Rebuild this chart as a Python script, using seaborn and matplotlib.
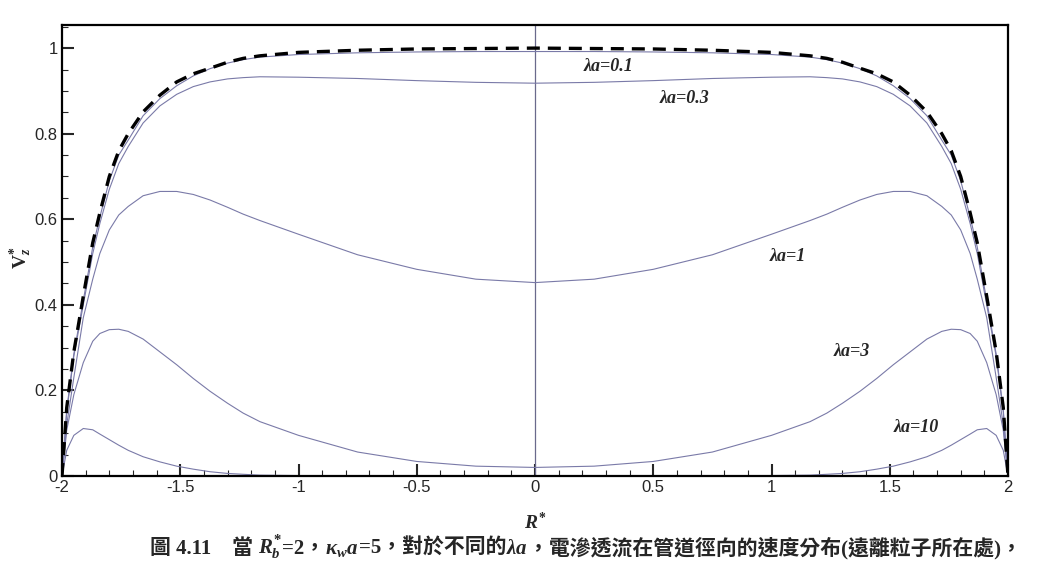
import pandas as pd
import seaborn as sns
import matplotlib.pyplot as plt
from matplotlib.ticker import MultipleLocator

# half profile from the wall (R*=-2) to the axis (R*=0); the profiles are symmetric
r_half = [-2.0, -1.98, -1.95, -1.91, -1.87, -1.84, -1.80, -1.76, -1.72, -1.657, -1.586,
          -1.515, -1.445, -1.374, -1.30, -1.234, -1.163, -1.0, -0.75, -0.5, -0.25, 0.0]

v_limit = [0, 0.16, 0.29, 0.42, 0.545, 0.615, 0.70, 0.76, 0.80, 0.851, 0.89,
           0.921, 0.94, 0.953, 0.967, 0.976, 0.982, 0.99, 0.995, 0.998, 0.999, 1.0]
v_01 = [0, 0.155, 0.285, 0.41, 0.535, 0.605, 0.69, 0.75, 0.785, 0.842, 0.882,
        0.912, 0.935, 0.952, 0.965, 0.973, 0.979, 0.985, 0.989, 0.991, 0.992, 0.992]
v_03 = [0, 0.15, 0.28, 0.40, 0.52, 0.59, 0.67, 0.73, 0.77, 0.825, 0.865,
        0.892, 0.91, 0.921, 0.928, 0.931, 0.933, 0.932, 0.929, 0.924, 0.92, 0.918]
v_1 = [0, 0.12, 0.23, 0.37, 0.46, 0.52, 0.575, 0.61, 0.63, 0.655, 0.665,
       0.665, 0.658, 0.645, 0.628, 0.612, 0.597, 0.565, 0.517, 0.483, 0.46, 0.452]
v_3 = [0, 0.107, 0.19, 0.265, 0.315, 0.333, 0.342, 0.343, 0.338, 0.32, 0.29,
       0.26, 0.228, 0.198, 0.17, 0.147, 0.127, 0.095, 0.056, 0.034, 0.023, 0.02]
v_10 = [0, 0.06, 0.095, 0.111, 0.108, 0.098, 0.085, 0.072, 0.06, 0.045, 0.033,
        0.023, 0.016, 0.01, 0.006, 0.004, 0.002, 0.001, 0.0, 0.0, 0.0, 0.0]

cases = ['λa=0.1', 'λa=0.3', 'λa=1', 'λa=3', 'λa=10']
profiles = [v_01, v_03, v_1, v_3, v_10]

caption_parts = ['圖 4.11　當 ', r'$R_b^{*}$', '=2，', r'$\kappa_w a$', '=5，對於不同的',
                 r'$\lambda a$', '，電滲透流在管道徑向的速度分布(遠離粒子所在處)，']


def mirror(v):
    return list(v) + list(v[-2::-1])


R_full = list(r_half) + [-r for r in r_half[-2::-1]]

rows = []
for name, v in zip(cases, profiles):
    for r, val in zip(R_full, mirror(v)):
        rows.append({'R': r, 'V': val, 'case': name})
df = pd.DataFrame(rows)

sns.set_style('ticks')
plt.rcParams['font.family'] = ['Liberation Sans', 'Noto Sans CJK TC']
plt.rcParams['mathtext.fontset'] = 'custom'
plt.rcParams['mathtext.rm'] = 'Liberation Serif:bold'
plt.rcParams['mathtext.it'] = 'Liberation Serif:italic:bold'
plt.rcParams['mathtext.bf'] = 'Liberation Serif:bold'

fig = plt.figure(figsize=(10.56, 5.76), dpi=100)
ax = fig.add_axes([62 / 1056, 100 / 576, 946 / 1056, 451 / 576])

line_col = '#7a7aa8'
sns.lineplot(data=df, x='R', y='V', hue='case', palette=[line_col] * 5,
             estimator=None, sort=False, legend=False, lw=0.8, ax=ax)
sns.lineplot(x=R_full, y=mirror(v_limit), color='black', lw=2.4,
             linestyle=(0, (3.9, 2.4)), estimator=None, sort=False, ax=ax)
ax.axvline(0, color='#6a6a8c', lw=0.9, zorder=1)

ax.set_xlim(-2, 2)
ax.set_ylim(0, 1.054)
ax.xaxis.set_major_locator(MultipleLocator(0.5))
ax.xaxis.set_minor_locator(MultipleLocator(0.1))
ax.yaxis.set_major_locator(MultipleLocator(0.2))
ax.yaxis.set_minor_locator(MultipleLocator(0.05))
ax.xaxis.set_major_formatter(plt.FuncFormatter(lambda x, p: f'{x:g}'))
ax.yaxis.set_major_formatter(plt.FuncFormatter(lambda y, p: f'{y:g}'))
ax.tick_params(which='major', direction='in', length=8.5, width=1.5, labelsize=12,
               pad=3, top=False, right=False)
ax.tick_params(which='minor', direction='in', length=4.3, width=0.8, top=False, right=False)
for s in ax.spines.values():
    s.set_linewidth(1.6)
    s.set_color('black')

ax.set_xlabel(r'$R^{*}$', fontsize=14)
ax.set_ylabel(r'$\mathrm{V}_z^{*}$', fontsize=14)
ax.xaxis.set_label_coords(0.5, -0.08)
ax.yaxis.set_label_coords(-0.03, 0.483)

# curve labels
for name, lx, ly in zip(cases, [0.31, 0.63, 1.07, 1.34, 1.61],
                        [0.958, 0.883, 0.512, 0.292, 0.114]):
    ax.text(lx, ly, name, ha='center', va='center', fontsize=13,
            fontfamily='Liberation Serif', fontweight='bold', fontstyle='italic')

# caption under the chart, pieced together so CJK and math both render
cap_font = ['Liberation Serif', 'Noto Sans CJK TC']
prev = ax.annotate(caption_parts[0], xy=(150, 22), xycoords='figure pixels',
                   va='baseline', ha='left', fontsize=15, fontfamily=cap_font,
                   fontweight='bold', annotation_clip=False)
for part in caption_parts[1:]:
    prev = ax.annotate(part, xy=(1, 22), xycoords=(prev, 'figure pixels'),
                       va='baseline', ha='left', fontsize=15, fontfamily=cap_font,
                       fontweight='bold', annotation_clip=False)

fig.savefig('out.png', dpi=100)
